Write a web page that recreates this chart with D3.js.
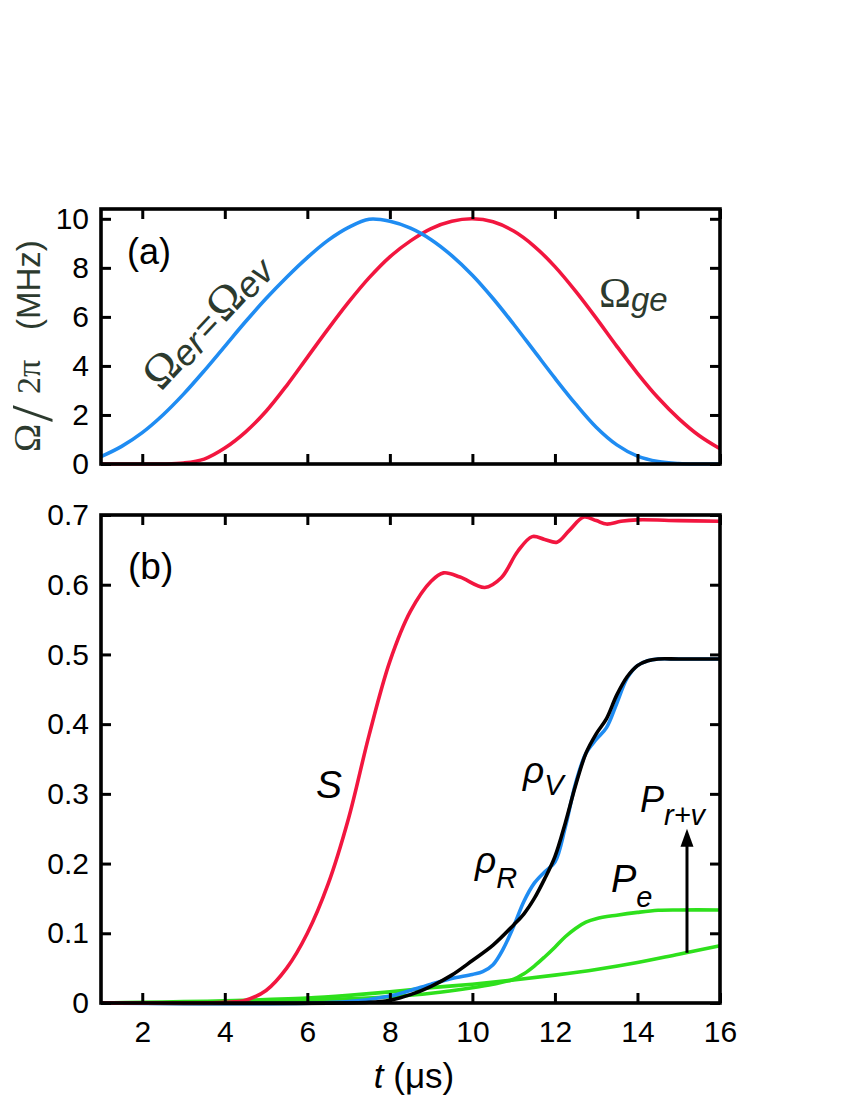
<!DOCTYPE html>
<html lang="en">
<head>
<meta charset="UTF-8">
<title>Pulses and populations</title>
<script src="https://cdn.jsdelivr.net/npm/d3@7"></script>
<style>
  body { margin: 0; background: #fff; }
  svg { display: block; font-family: "Liberation Sans", Arial, sans-serif; }
  .tick line { stroke: #000; stroke-width: 3; }
  .tick text { font-size: 30px; fill: #000; font-family: "Liberation Sans", Arial, sans-serif; }
  .curve { fill: none; stroke-width: 3.6; stroke-linejoin: round; }
</style>
</head>
<body>
<svg width="850" height="1100"></svg>
<script>
// panel (a): pulse amplitudes, Omega/2pi in MHz
const timeA = [1, 1.5, 2, 2.5, 3, 3.5, 4, 4.5, 5, 5.5, 6, 6.5, 7, 7.5, 8, 8.5,
  9, 9.5, 10, 10.5, 11, 11.5, 12, 12.5, 13, 13.5, 14, 14.5, 15, 15.5, 16];
const omegaEr = [0.3, 0.72, 1.28, 2.0, 2.85, 3.8, 4.8, 5.8, 6.75, 7.62, 8.42, 9.12, 9.65, 9.98, 9.9, 9.62,
  9.15, 8.5, 7.7, 6.75, 5.7, 4.6, 3.5, 2.45, 1.5, 0.78, 0.32, 0.1, 0.02, 0, 0];
const omegaGe = [0, 0, 0, 0, 0.04, 0.2, 0.65, 1.3, 2.15, 3.2, 4.35, 5.5, 6.6, 7.6, 8.45, 9.1,
  9.6, 9.9, 10, 9.88, 9.5, 8.88, 8.05, 7.05, 5.95, 4.8, 3.7, 2.7, 1.85, 1.15, 0.62];

// panel (b): [t, value]
const sCurve = [[1, 0], [3, 0], [4, 0.001], [4.5, 0.004], [5, 0.018], [5.5, 0.05], [6, 0.1], [6.5, 0.17],
  [7, 0.265], [7.5, 0.385], [8, 0.49], [8.5, 0.562], [9, 0.605], [9.3, 0.617], [9.7, 0.611], [10.3, 0.596],
  [10.7, 0.61], [11.1, 0.648], [11.45, 0.669], [11.75, 0.665], [12.05, 0.661], [12.35, 0.678], [12.7, 0.697],
  [13.0, 0.692], [13.25, 0.687], [13.6, 0.691], [14, 0.693], [15, 0.692], [16, 0.691]];
const rhoR = [[1, 0], [7, 0.002], [8, 0.01], [8.5, 0.018], [9, 0.027], [9.5, 0.035], [10, 0.041], [10.25, 0.045],
  [10.5, 0.055], [10.75, 0.078], [11, 0.11], [11.25, 0.146], [11.5, 0.172], [11.75, 0.188], [12, 0.202],
  [12.25, 0.252], [12.5, 0.315], [12.75, 0.358], [13, 0.378], [13.25, 0.395], [13.5, 0.43], [13.75, 0.466],
  [14, 0.484], [14.25, 0.491], [14.5, 0.4935], [15, 0.4935], [16, 0.4935]];
const rhoV = [[1, 0], [7.5, 0.001], [8, 0.004], [8.5, 0.012], [9, 0.024], [9.5, 0.04], [10, 0.061], [10.5, 0.083],
  [11, 0.112], [11.25, 0.128], [11.5, 0.15], [11.75, 0.178], [12, 0.21], [12.25, 0.258], [12.5, 0.312],
  [12.75, 0.358], [13, 0.386], [13.25, 0.408], [13.5, 0.442], [13.75, 0.468], [14, 0.484], [14.25, 0.491],
  [14.5, 0.4935], [15, 0.4935], [16, 0.4935]];
const pE = [[1, 0], [3, 0], [4, 0.001], [6, 0.004], [7, 0.006], [8, 0.009], [9, 0.014], [10, 0.022], [10.5, 0.027],
  [11, 0.034], [11.25, 0.042], [11.5, 0.053], [11.75, 0.066], [12, 0.08], [12.25, 0.095], [12.5, 0.107],
  [12.75, 0.116], [13, 0.121], [13.5, 0.126], [14, 0.13], [14.5, 0.133], [15, 0.1335], [16, 0.1335]];
const pLow = [[1, 0], [2, 0.001], [3, 0.002], [4, 0.003], [5, 0.005], [6, 0.007], [7, 0.011], [8, 0.016],
  [9, 0.022], [10, 0.027], [11, 0.033], [12, 0.04], [13, 0.048], [14, 0.058], [15, 0.07], [16, 0.082]];
const arrowT = 15.2, arrowFrom = 0.072, arrowTo = 0.25;

const xTicks = [2, 4, 6, 8, 10, 12, 14, 16];
const yTicksA = [0, 2, 4, 6, 8, 10];
const yTicksB = [0, 0.1, 0.2, 0.3, 0.4, 0.5, 0.6, 0.7];
const yLabelsB = ["0", "0.1", "0.2", "0.3", "0.4", "0.5", "0.6", "0.7"];

const red = "#f2163f", blue = "#1f8cf2", green = "#2ee01c", ink = "#2c3a2e";

const svg = d3.select("svg");
const x = d3.scaleLinear().domain([1, 16]).range([101, 720]);
const yA = d3.scaleLinear().domain([0, 10.4]).range([464, 209]);
const yB = d3.scaleLinear().domain([0, 0.7]).range([1003, 515]);

function drawAxes(y, yTicks, yFmt, xLabelled) {
  const [bottom, top] = y.range();
  const g = svg.append("g");
  g.append("g").attr("transform", `translate(0,${bottom})`)
    .call(d3.axisBottom(x).tickValues(xTicks).tickSize(-10).tickPadding(18)
      .tickFormat(xLabelled ? d3.format("d") : ""));
  g.append("g").attr("transform", `translate(0,${top})`)
    .call(d3.axisTop(x).tickValues(xTicks).tickSize(-10).tickFormat(""));
  g.append("g").attr("transform", `translate(${x.range()[0]},0)`)
    .call(d3.axisLeft(y).tickValues(yTicks).tickSize(-10).tickPadding(12).tickFormat(yFmt));
  g.append("g").attr("transform", `translate(${x.range()[1]},0)`)
    .call(d3.axisRight(y).tickValues(yTicks).tickSize(-10).tickFormat(""));
  g.selectAll(".domain").remove();
  g.append("rect")
    .attr("x", x.range()[0]).attr("y", top)
    .attr("width", x.range()[1] - x.range()[0]).attr("height", bottom - top)
    .attr("fill", "none").attr("stroke", "#000").attr("stroke-width", 3.6);
}

// ---- panel (a) ----
const lineA = d3.line().x(d => x(d[0])).y(d => yA(d[1])).curve(d3.curveCatmullRom.alpha(0.5));
svg.append("path").attr("class", "curve").attr("stroke", red)
  .attr("d", lineA(timeA.map((t, i) => [t, omegaGe[i]])));
svg.append("path").attr("class", "curve").attr("stroke", blue)
  .attr("d", lineA(timeA.map((t, i) => [t, omegaEr[i]])));
drawAxes(yA, yTicksA, d3.format("d"), false);

svg.append("text").attr("x", 127).attr("y", 264).attr("font-size", 36).text("(a)");

// y label, rotated: Ω / 2π  (MHz)
const yl = svg.append("text").attr("transform", "translate(40,452) rotate(-90)").attr("fill", ink);
yl.append("tspan").attr("x", 0).attr("font-family", "Liberation Serif").attr("font-size", 38).text("Ω");
yl.append("tspan").attr("x", 58).attr("font-family", "Liberation Serif").attr("font-size", 34).text("2π");
yl.append("tspan").attr("x", 122).attr("font-size", 33).text("(MHz)");
svg.append("text").attr("transform", "translate(52,422) rotate(-90)").attr("fill", ink)
  .attr("font-family", "Liberation Serif").attr("font-size", 60).text("/");

// Ω_er = Ω_ev along the blue curve
const lab1 = svg.append("text").attr("transform", "translate(161,392) rotate(-47)").attr("fill", ink);
lab1.append("tspan").attr("font-family", "Liberation Serif").attr("font-size", 46).text("Ω");
lab1.append("tspan").attr("font-style", "italic").attr("font-size", 36).attr("dy", 3).text("er");
lab1.append("tspan").attr("font-size", 36).attr("dy", -3).attr("dx", 3).text("=");
lab1.append("tspan").attr("font-family", "Liberation Serif").attr("font-size", 46).attr("dx", 3).text("Ω");
lab1.append("tspan").attr("font-style", "italic").attr("font-size", 36).attr("dy", 3).text("ev");

// Ω_ge
const lab2 = svg.append("text").attr("x", 599).attr("y", 307).attr("fill", ink);
lab2.append("tspan").attr("font-family", "Liberation Serif").attr("font-size", 43).text("Ω");
lab2.append("tspan").attr("font-style", "italic").attr("font-size", 33).attr("dy", 4).text("ge");

// ---- panel (b) ----
const lineB = d3.line().x(d => x(d[0])).y(d => yB(d[1])).curve(d3.curveCatmullRom.alpha(0.5));
svg.append("path").attr("class", "curve").attr("stroke", green).attr("d", lineB(pLow));
svg.append("path").attr("class", "curve").attr("stroke", green).attr("d", lineB(pE));
svg.append("path").attr("class", "curve").attr("stroke", blue).attr("d", lineB(rhoR));
svg.append("path").attr("class", "curve").attr("stroke", "#000").attr("d", lineB(rhoV));
svg.append("path").attr("class", "curve").attr("stroke", red).attr("d", lineB(sCurve));

// arrow from the lower green line up to P_r+v
const ax = x(arrowT), tipY = yB(arrowTo);
svg.append("line").attr("x1", ax).attr("x2", ax).attr("y1", yB(arrowFrom)).attr("y2", tipY + 14)
  .attr("stroke", "#000").attr("stroke-width", 3);
svg.append("path").attr("d", `M${ax},${tipY} L${ax - 6.5},${tipY + 18} L${ax + 6.5},${tipY + 18} Z`)
  .attr("fill", "#000");

drawAxes(yB, yTicksB, (d, i) => yLabelsB[i], true);

svg.append("text").attr("x", 128).attr("y", 579).attr("font-size", 37).text("(b)");

function label(px, py, main, sub, mainSize, subSize, subDy) {
  const t = svg.append("text").attr("x", px).attr("y", py).attr("font-style", "italic");
  t.append("tspan").attr("font-size", mainSize).text(main);
  if (sub) t.append("tspan").attr("font-size", subSize).attr("dy", subDy).text(sub);
}
label(316, 798, "S", null, 39);
label(523, 783, "ρ", "V", 37, 29, 12);
label(475, 873, "ρ", "R", 37, 29, 15);
label(640, 812, "P", "r+v", 36, 29, 13);
label(611, 892, "P", "e", 38, 29, 15);

// x axis title
const xt = svg.append("text").attr("x", 414).attr("y", 1088).attr("text-anchor", "middle").attr("font-size", 35);
xt.append("tspan").attr("font-style", "italic").text("t");
xt.append("tspan").text(" (μs)");
</script>
</body>
</html>
